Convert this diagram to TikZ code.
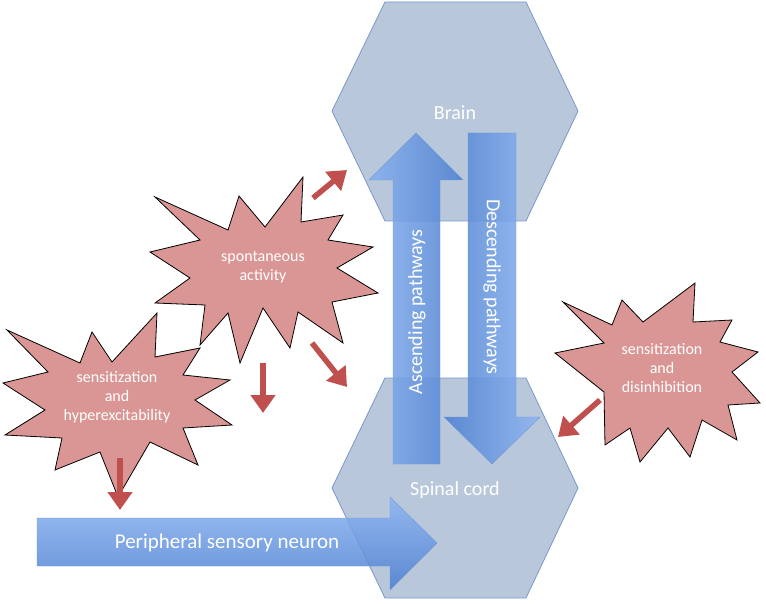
\documentclass[tikz,border=0pt]{standalone}
\usepackage{fontspec}
\setmainfont{Carlito}
\usetikzlibrary{arrows.meta}

\definecolor{hexfill}{RGB}{185,199,219}
\definecolor{hexline}{RGB}{120,152,202}
\definecolor{pathdark}{RGB}{78,128,208}
\definecolor{pathlight}{RGB}{142,182,242}
\definecolor{starfill}{RGB}{217,150,148}
\definecolor{effectred}{RGB}{192,80,77}

\tikzset{
  region/.style={fill=hexfill, draw=hexline, line width=0.8pt},
  regionlabel/.style={text=white, font=\fontsize{20}{24}\selectfont},
  pathway/.style={draw=pathdark!80, line width=0.4pt, fill opacity=0.88},
  pathlabel/.style={text=white, font=\fontsize{20}{24}\selectfont},
  burst/.style={fill=starfill, draw=black, line width=0.8pt, sharp cycle},
  burstlabel/.style={text=white, align=center, font=\fontsize{16}{19}\selectfont},
  effect/.style={draw=effectred, line width=5.5pt, -{Triangle[length=18pt,width=24pt]}},
}

\begin{document}
\begin{tikzpicture}[x=1pt,y=-1pt]
\useasboundingbox (0,0) rectangle (766,604);

% brain and spinal cord
\draw[region] (385,2) -- (526,2) -- (578,111) -- (526,221) -- (385,221) -- (332,111) -- cycle;
\node[regionlabel] (brain) at (455,113) {Brain};
\draw[region] (385,378) -- (526,378) -- (578,488) -- (526,598) -- (385,598) -- (332,488) -- cycle;
\node[regionlabel] (spinal) at (455,490) {Spinal cord};

% pathways
\shade[pathway, left color=pathlight!90!pathdark, right color=pathdark]
  (393,464) -- (393,180) -- (369,180) -- (416,133) -- (463,180) -- (440,180) -- (440,464) -- cycle;
\node[pathlabel, rotate=90] (asc) at (417,312) {Ascending pathways};
\shade[pathway, left color=pathdark, right color=pathlight]
  (468,133) -- (516,133) -- (516,417) -- (540,417) -- (492,464) -- (444,417) -- (468,417) -- cycle;
\node[pathlabel, rotate=-90] (desc) at (492,287) {Descending pathways};
\shade[pathway, top color=pathlight, bottom color=pathdark]
  (37,518) -- (390,518) -- (390,497) -- (437,543) -- (390,590) -- (390,566) -- (37,566) -- cycle;
\node[pathlabel, font=\fontsize{21}{25}\selectfont] (periph) at (227,543) {Peripheral sensory neuron};

% bursts
\draw[burst] plot coordinates {(155,197) (228,230) (239,196) (265,227) (303,177) (301,222) (343,215)
  (328,240) (373,247) (337,268) (378,293) (332,302) (343,343) (298,312) (290,348) (263,308)
  (240,363) (228,313) (200,345) (205,305) (155,303) (190,278) (150,252) (200,240)};
\node[burstlabel] (spont) at (263,267) {spontaneous\\activity};

\draw[burst] plot coordinates {(7,330) (80,363) (92,332) (112,362) (157,313) (155,357) (200,348)
  (183,375) (230,380) (195,400) (232,425) (183,428) (198,465) (150,442) (118,497) (100,452)
  (55,470) (62,438) (5,435) (45,410) (3,383) (48,372)};
\node[burstlabel] (hyper) at (117,397) {sensitization\\and\\hyperexcitability};

\draw[burst] plot coordinates {(563,302) (612,325) (622,300) (643,322) (695,283) (693,322) (732,320)
  (720,342) (758,352) (732,372) (760,403) (728,405) (737,440) (702,420) (690,457) (668,428)
  (640,462) (630,428) (605,445) (604,392) (555,353) (604,343)};
\node[burstlabel] (disinh) at (662,368) {sensitization\\and\\disinhibition};

% effects
\coordinate (s1) at (313,198);  \coordinate (e1) at (347,170);
\coordinate (s2) at (263,363);  \coordinate (e2) at (263,413);
\coordinate (s3) at (312,343);  \coordinate (e3) at (347,387);
\coordinate (s4) at (120,458);  \coordinate (e4) at (120,510);
\coordinate (s5) at (600,400);  \coordinate (e5) at (558,437);
\foreach \i in {1,...,5}
  \draw[effect] (s\i) -- (e\i);
\end{tikzpicture}
\end{document}
